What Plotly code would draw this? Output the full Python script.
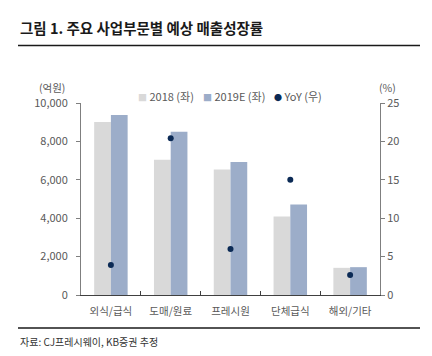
import plotly.graph_objects as go

categories = ["외식/급식", "도매/원료", "프레시원", "단체급식", "해외/기타"]
sales_2018 = [9010, 7050, 6530, 4085, 1415]
sales_2019e = [9375, 8505, 6930, 4710, 1450]
yoy = [3.9, 20.4, 6.0, 15.0, 2.6]

FONT = "Noto Sans CJK KR"
GRAY_TXT = "#595959"
C2018 = "#D9D9D9"
C2019 = "#9CADC9"
CDOT = "#0B2A55"

W, H = 432, 356
L, R, T, B = 81, 52, 103, 61
PW, PH = W - L - R, H - T - B


def px_x(x):
    return (x - L) / PW


def px_y(y):
    return (H - B - y) / PH


fig = go.Figure()
fig.add_trace(go.Bar(x=categories, y=sales_2018, name="2018 (좌)", marker_color=C2018,
                     marker_line_width=0, showlegend=False))
fig.add_trace(go.Bar(x=categories, y=sales_2019e, name="2019E (좌)", marker_color=C2019,
                     marker_line_width=0, showlegend=False))
fig.add_trace(go.Scatter(x=categories, y=yoy, name="YoY (우)", mode="markers",
                         marker=dict(color=CDOT, size=6), yaxis="y2", showlegend=False))

fig.update_layout(
    width=W, height=H,
    margin=dict(l=L, r=R, t=T, b=B, autoexpand=False),
    paper_bgcolor="white", plot_bgcolor="white",
    font=dict(family=FONT, size=11, color=GRAY_TXT),
    barmode="group", bargap=0.44, bargroupgap=0,
    xaxis=dict(showline=True, linecolor="#404040", linewidth=1, ticks="inside", ticklen=4,
               tickcolor="#404040", tickson="boundaries", tickfont=dict(size=10.5, color=GRAY_TXT),
               ticklabelstandoff=6, showgrid=False),
    yaxis=dict(range=[0, 10000], dtick=2000, tickformat=",", showline=True, linecolor="#7F7F7F",
               linewidth=1, ticks="outside", ticklen=4, tickcolor="#7F7F7F", showgrid=False,
               zeroline=False, ticklabelstandoff=6, tickfont=dict(size=11, color=GRAY_TXT)),
    yaxis2=dict(range=[0, 25], dtick=5, overlaying="y", side="right", showline=True,
                linecolor="#7F7F7F", linewidth=1, ticks="outside", ticklen=4, tickcolor="#7F7F7F",
                showgrid=False, zeroline=False, tickfont=dict(size=11, color=GRAY_TXT)),
    showlegend=False,
)

# title and rules
fig.add_annotation(xref="paper", yref="paper", x=px_x(18), y=px_y(27),
                   xanchor="left", yanchor="middle", showarrow=False,
                   text="<b>그림 1. 주요 사업부문별 예상 매출성장률</b>",
                   font=dict(size=14.5, color="#1a1a1a", family=FONT))
for ypx in (45.5, 328):
    fig.add_shape(type="line", xref="paper", yref="paper", layer="above",
                  x0=px_x(18), x1=px_x(420), y0=px_y(ypx), y1=px_y(ypx),
                  line=dict(color="#1a1a1a", width=1.5))
fig.add_annotation(xref="paper", yref="paper", x=px_x(18), y=px_y(341),
                   xanchor="left", yanchor="middle", showarrow=False,
                   text="자료: CJ프레시웨이, KB증권 추정",
                   font=dict(size=10, color="#333333", family=FONT))

# axis unit labels
fig.add_annotation(xref="paper", yref="paper", x=px_x(52), y=px_y(87),
                   xanchor="center", yanchor="middle", showarrow=False, text="(억원)",
                   font=dict(size=10.5, color=GRAY_TXT))
fig.add_annotation(xref="paper", yref="paper", x=px_x(387), y=px_y(87),
                   xanchor="center", yanchor="middle", showarrow=False, text="(%)",
                   font=dict(size=10.5, color=GRAY_TXT))

# legend
legend_items = [
    (136, f"<span style='color:{C2018};font-size:9px'>■</span> 2018 (좌)"),
    (201, f"<span style='color:{C2019};font-size:9px'>■</span> 2019E (좌)"),
    (272, f"<span style='color:{CDOT};font-size:8px'>●</span> YoY (우)"),
]
for xpx, txt in legend_items:
    fig.add_annotation(xref="paper", yref="paper", x=px_x(xpx), y=px_y(96),
                       xanchor="left", yanchor="middle", showarrow=False, text=txt,
                       font=dict(size=11, color=GRAY_TXT))

fig.write_html("out.html", config={"displayModeBar": False},
               post_script="document.body.style.margin='0';document.body.style.overflow='hidden';")
